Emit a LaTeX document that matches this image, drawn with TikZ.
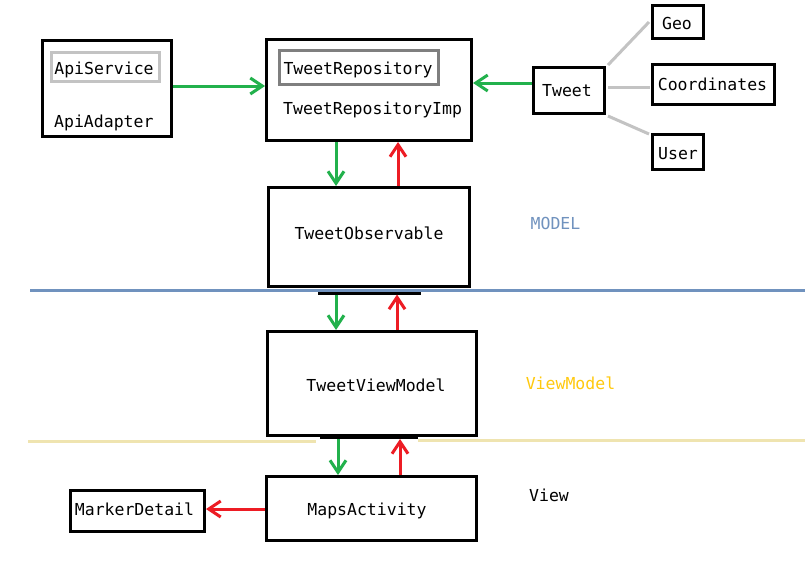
\documentclass[tikz,border=0pt]{standalone}
\usepackage{fontspec}
\setmonofont{DejaVu Sans Mono}
\usetikzlibrary{arrows.meta}
\definecolor{pgreen}{HTML}{22B14C}
\definecolor{pred}{HTML}{ED1C24}
\definecolor{pblue}{HTML}{7092BE}
\definecolor{pyellow}{HTML}{EFE4B0}
\definecolor{pgold}{HTML}{FFC90E}
\definecolor{lgray}{HTML}{C3C3C3}
\definecolor{dgray}{HTML}{7F7F7F}
\begin{document}
\begin{tikzpicture}[x=1pt,y=-1pt,
  box/.style={draw=black, line width=3.3pt, inner sep=0pt},
  ibox/.style={line width=3pt, inner sep=0pt},
  txt/.style={font=\ttfamily\fontsize{16.5}{18}\selectfont, inner sep=0pt, text height=12pt, text depth=0pt},
  garrow/.style={draw=pgreen, line width=3pt, -{Straight Barb[length=12pt,width=16pt]}},
  rarrow/.style={draw=pred, line width=3pt, -{Straight Barb[length=12pt,width=16pt]}},
  link/.style={draw=lgray, line width=3pt},
  divider/.style={line width=3pt}]
\useasboundingbox (0,0) rectangle (805,573);
\fill[white] (0,0) rectangle (805,573);

% helper coordinates
\coordinate (cy86) at (0,86);
\coordinate (cy83) at (0,83);
\coordinate (cy87) at (0,87);
\coordinate (cy509) at (0,509);
\coordinate (cx336) at (336,0);
\coordinate (cx338) at (338,0);
\coordinate (cx397) at (397,0);
\coordinate (cx398) at (398,0);
\coordinate (cx400) at (400,0);

% dividers
\coordinate (blueL) at (30,290);
\coordinate (blueR) at (805,290);
\draw[divider, pblue] (blueL) -- (blueR);
\coordinate (bar1L) at (318,293);
\coordinate (bar1R) at (421,293);
\draw[divider, black] (bar1L) -- (bar1R);
\coordinate (bar1) at (369,294.5);
\coordinate (yelL1) at (28,441);
\coordinate (yelL2) at (316,441);
\coordinate (yelR1) at (418,440);
\coordinate (yelR2) at (805,440);
\draw[divider, pyellow] (yelL1) -- (yelL2);
\draw[divider, pyellow] (yelR1) -- (yelR2);
\coordinate (bar2L) at (320,437.5);
\coordinate (bar2R) at (418,437.5);
\draw[divider, black] (bar2L) -- (bar2R);
\coordinate (bar2) at (369,439);

% boxes
\node[box, minimum width=128.7pt, minimum height=95.7pt] (apiadapter) at (107,88.5) {};
\node[ibox, draw=lgray, minimum width=108pt, minimum height=29pt] (apiservice) at (105.5,67) {};
\node[txt] (apiservicetxt) at (104,68) {ApiService};
\node[txt, anchor=west] (apiadaptertxt) at (54,121) {ApiAdapter};

\node[box, minimum width=204.7pt, minimum height=100.7pt] (repo) at (369,90) {};
\node[ibox, draw=dgray, minimum width=159pt, minimum height=34pt] (irepo) at (359,67.5) {};
\node[txt] (irepotxt) at (358,68) {TweetRepository};
\node[txt, anchor=west] (repotxt) at (283,108) {TweetRepositoryImp};

\node[box, minimum width=200.7pt, minimum height=98.7pt] (obs) at (369,237) {};
\node[txt] (obstxt) at (369,233) {TweetObservable};

\node[box, minimum width=208.7pt, minimum height=103.7pt] (vm) at (372,383.5) {};
\node[txt] (vmtxt) at (376,385) {TweetViewModel};

\node[box, minimum width=209.7pt, minimum height=63.7pt] (maps) at (371.5,508.5) {};
\node[txt] (mapstxt) at (367,509) {MapsActivity};

\node[box, minimum width=133.7pt, minimum height=40.7pt] (marker) at (137.5,511) {};
\node[txt] (markertxt) at (134.5,509) {MarkerDetail};

\node[box, minimum width=70.7pt, minimum height=45.7pt] (tweet) at (569,90.5) {};
\node[txt] (tweettxt) at (567,90) {Tweet};

\node[box, minimum width=50.7pt, minimum height=32.7pt] (geo) at (678,22) {};
\node[txt] (geotxt) at (677,23) {Geo};

\node[box, minimum width=121.7pt, minimum height=39.7pt] (coords) at (713.5,84.5) {};
\node[txt] (coordstxt) at (712.5,84) {Coordinates};

\node[box, minimum width=50.7pt, minimum height=34.7pt] (user) at (678,152) {};
\node[txt] (usertxt) at (678,153) {User};

% layer labels
\node[txt, text=pblue] (modellbl) at (555.5,223) {MODEL};
\node[txt, text=pgold] (vmlbl) at (570.5,383) {ViewModel};
\node[txt, text=black] (viewlbl) at (549,495) {View};

% links
\draw[link] ([shift={(2,-1)}]tweet.north east) -- ([shift={(-2,0)}]geo.west);
\draw[link] ([xshift=2pt]tweet.east |- cy87) -- ([xshift=-1pt]coords.west |- cy87);
\draw[link] ([shift={(2,1)}]tweet.south east) -- ([shift={(-2,1)}]user.north west);

% arrows
\draw[garrow] (apiadapter.east |- cy86) -- (repo.west |- cy86);
\draw[garrow] (tweet.west |- cy83) -- (repo.east |- cy83);
\draw[garrow] (repo.south -| cx336) -- (obs.north -| cx336);
\draw[rarrow] (obs.north -| cx398) -- (repo.south -| cx398);
\draw[garrow] (bar1 -| cx336) -- (vm.north -| cx336);
\draw[rarrow] (vm.north -| cx397) -- (bar1 -| cx397);
\draw[garrow] (bar2 -| cx338) -- (maps.north -| cx338);
\draw[rarrow] (maps.north -| cx400) -- (bar2 -| cx400);
\draw[rarrow] (maps.west |- cy509) -- (marker.east |- cy509);
\end{tikzpicture}
\end{document}
